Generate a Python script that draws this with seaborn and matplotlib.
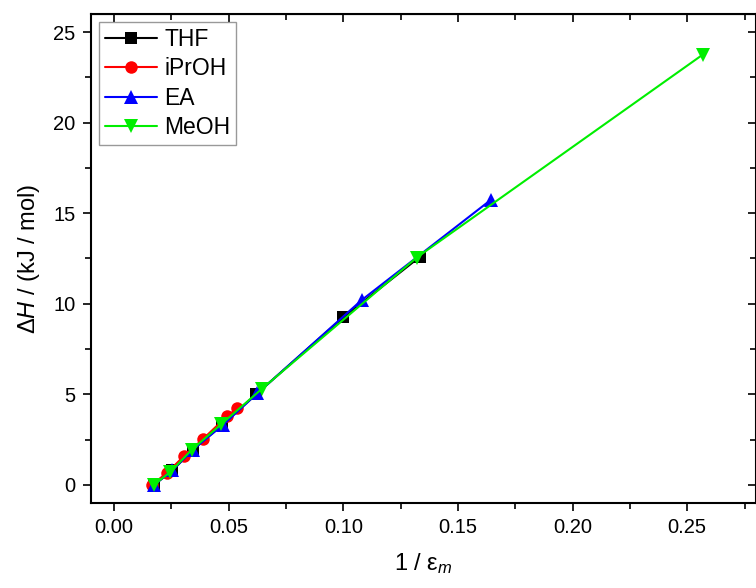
import matplotlib
matplotlib.use('Agg')
import matplotlib.pyplot as plt
import seaborn as sns

# data
thf_x = [0.0175, 0.0255, 0.0345, 0.047, 0.062, 0.100, 0.1335]
thf_y = [0.0, 0.8, 1.95, 3.3, 5.0, 9.25, 12.6]

iproh_x = [0.0165, 0.0233, 0.0306, 0.039, 0.0494, 0.0538]
iproh_y = [0.0, 0.68, 1.6, 2.55, 3.8, 4.22]

ea_x = [0.0175, 0.0255, 0.0345, 0.0475, 0.0625, 0.108, 0.1645]
ea_y = [0.0, 0.8, 1.95, 3.3, 5.05, 10.2, 15.75]

meoh_x = [0.0173, 0.0245, 0.034, 0.0468, 0.0645, 0.132, 0.2567]
meoh_y = [0.0, 0.7, 1.95, 3.35, 5.3, 12.55, 23.75]

sns.set_style('ticks')
plt.rcParams['font.family'] = ['Liberation Sans', 'DejaVu Sans']
plt.rcParams['mathtext.fontset'] = 'custom'
plt.rcParams['mathtext.rm'] = 'Liberation Sans'
plt.rcParams['mathtext.it'] = 'Liberation Sans:italic'
plt.rcParams['text.color'] = 'black'
plt.rcParams['axes.labelcolor'] = 'black'
plt.rcParams['xtick.color'] = 'black'
plt.rcParams['ytick.color'] = 'black'

fig = plt.figure(figsize=(7.56, 5.88), dpi=100)
ax = fig.add_axes([0.1204, 0.1446, 0.8796, 0.8316])

series = [
    ('THF', thf_x, thf_y, 'black', 's', 8),
    ('iPrOH', iproh_x, iproh_y, 'red', 'o', 9),
    ('EA', ea_x, ea_y, 'blue', '^', 9.5),
    ('MeOH', meoh_x, meoh_y, '#00ee00', 'v', 10),
]
for name, xs, ys, col, mk, ms in series:
    sns.lineplot(x=xs, y=ys, ax=ax, color=col, marker=mk, markersize=ms,
                 markeredgewidth=0, linewidth=1.5, sort=False, label=name)

ax.set_xlim(-0.01, 0.28)
ax.set_ylim(-1.0, 26.0)
ax.set_xticks([0.00, 0.05, 0.10, 0.15, 0.20, 0.25])
ax.set_xticks([0.025, 0.075, 0.125, 0.175, 0.225, 0.275], minor=True)
ax.set_yticks([0, 5, 10, 15, 20, 25])
ax.set_yticks([2.5, 7.5, 12.5, 17.5, 22.5], minor=True)
ax.xaxis.set_major_formatter(matplotlib.ticker.FormatStrFormatter('%.2f'))
ax.tick_params(which='major', direction='out', length=6, width=1.2, labelsize=14.5, pad=5)
ax.tick_params(which='minor', direction='out', length=4, width=1.2)
for s in ax.spines.values():
    s.set_linewidth(1.5)
    s.set_color('black')

# mirrored ticks pointing inward on top and right
top = ax.secondary_xaxis('top')
top.set_xticks(ax.get_xticks())
top.set_xticks([0.025, 0.075, 0.125, 0.175, 0.225, 0.275], minor=True)
top.tick_params(which='major', direction='in', length=6, width=1.2, labeltop=False)
top.tick_params(which='minor', direction='in', length=4, width=1.2)
right = ax.secondary_yaxis('right')
right.set_yticks([0, 5, 10, 15, 20, 25])
right.set_yticks([2.5, 7.5, 12.5, 17.5, 22.5], minor=True)
right.tick_params(which='major', direction='in', length=6, width=1.2, labelright=False)
right.tick_params(which='minor', direction='in', length=4, width=1.2)

ax.set_xlabel(r'1 / $\mathrm{\varepsilon}_{m}$', fontsize=17, labelpad=10)
ax.set_ylabel(r'$\Delta$$\it{H}$ / (kJ / mol)', fontsize=17, labelpad=8)

leg = ax.legend(loc='upper left', fontsize=16.5, frameon=True, fancybox=False,
                edgecolor='gray', borderaxespad=0.35, handlelength=2.3,
                handletextpad=0.3, labelspacing=0.28, borderpad=0.25)
leg.get_frame().set_linewidth(1.0)

fig.savefig('out.png', dpi=100)
